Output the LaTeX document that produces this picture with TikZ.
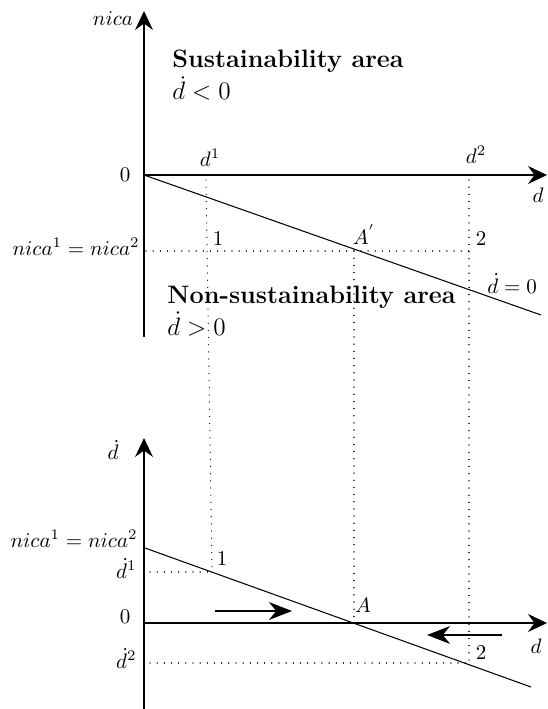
\documentclass[tikz,border=0pt]{standalone}
\usetikzlibrary{arrows.meta}
\begin{document}
\begin{tikzpicture}[x=0.476pt,y=-0.476pt,
  axis/.style={line width=0.75pt,-{Stealth[length=9pt,width=8.5pt,inset=3pt]}},
  curve/.style={line width=0.5pt},
  guide/.style={line width=0.6pt,dash pattern=on 0.01pt off 3.4pt,line cap=round},
  flow/.style={line width=0.5pt,-{Stealth[length=11pt,width=8.5pt,inset=3.5pt]}},
  lbl/.style={inner sep=0pt},
  area/.style={inner sep=0pt,font=\large}]
\useasboundingbox (0,0) rectangle (548,709);
% ---------- top panel ----------
\coordinate (Y1b) at (144,337);
\coordinate (Y1t) at (144,11);
\coordinate (O1) at (144,175);
\coordinate (X1e) at (547,175);
\coordinate (L1e) at (541,315);
\coordinate (Ap) at (354,251);
\coordinate (H1s) at (146,251);
\coordinate (H1e) at (469,251);
\coordinate (V1t) at (206,180);
\coordinate (V1b) at (212,568);
\coordinate (V2t) at (469,180);
\coordinate (V2b) at (469,663);
\coordinate (V3b) at (354,622);
\draw[axis] (Y1b) -- (Y1t);
\draw[axis] (O1) -- (X1e);
\draw[curve] (O1) -- (L1e);
\draw[guide] (H1s) -- (H1e);
\draw[guide] (V1t) -- (V1b);
\draw[guide] (V2t) -- (V2b);
\draw[guide] (Ap) -- (V3b);
\node[lbl] (nica) at (113,19) {$nica$};
\node[area,anchor=base west] (sus) at (172,68) {\bfseries Sustainability area};
\node[area,anchor=base west] (susd) at (172,100) {$\dot d<0$};
\node[lbl] (zero1) at (125,175) {$0$};
\node[lbl] (d1) at (210,158) {$d^1$};
\node[lbl] (d2) at (476,155) {$d^2$};
\node[lbl] (dax1) at (538,195) {$d$};
\node[lbl] (one1) at (218,239) {$1$};
\node[lbl] (two1) at (481,239) {$2$};
\node[lbl] (Aprime) at (364,235) {$A^{'}$};
\node[lbl,anchor=base east] (nc1) at (140,255) {$nica^1=nica^2$};
\node[area,anchor=base west] (nsus) at (167,303) {\bfseries Non-sustainability area};
\node[area,anchor=base west] (nsusd) at (167,335) {$\dot d>0$};
\node[lbl,anchor=base west] (dz) at (487,293) {$\dot d=0$};
% ---------- bottom panel ----------
\coordinate (Y2b) at (144,709);
\coordinate (Y2t) at (144,438);
\coordinate (O2) at (144,623);
\coordinate (X2e) at (547,623);
\coordinate (L2s) at (145,548);
\coordinate (L2e) at (531,687);
\coordinate (H2s) at (150,572);
\coordinate (H2e) at (212,572);
\coordinate (H3s) at (150,663);
\coordinate (F1s) at (215,611);
\coordinate (F1e) at (292,611);
\coordinate (F2s) at (502,635);
\coordinate (F2e) at (427,635);
\draw[axis] (Y2b) -- (Y2t);
\draw[axis] (O2) -- (X2e);
\draw[curve] (L2s) -- (L2e);
\draw[guide] (H2s) -- (H2e);
\draw[guide] (H3s) -- (V2b);
\draw[flow] (F1s) -- (F1e);
\draw[flow] (F2s) -- (F2e);
\node[lbl] (ddot) at (113,450) {$\dot d$};
\node[lbl,anchor=base east] (nc2) at (138,547) {$nica^1=nica^2$};
\node[lbl,anchor=base east] (dd1) at (137,578) {$\dot d^1$};
\node[lbl] (zero2) at (125,617) {$0$};
\node[lbl,anchor=base east] (dd2) at (137,668) {$\dot d^2$};
\node[lbl] (one2) at (222,559) {$1$};
\node[lbl] (Apt) at (363,605) {$A$};
\node[lbl] (two2) at (481,653) {$2$};
\node[lbl] (dax2) at (536,646) {$d$};
\end{tikzpicture}
\end{document}
